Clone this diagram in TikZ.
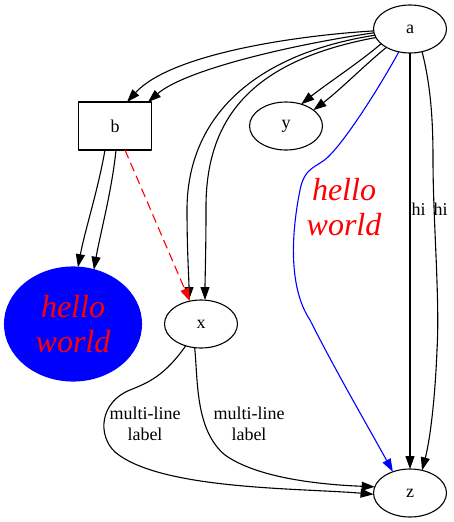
\documentclass[tikz,border=0pt]{standalone}
\usepackage{fontspec}
\setmainfont{Liberation Serif}
\usetikzlibrary{shapes.geometric,arrows.meta}
\begin{document}
\begin{tikzpicture}[x=1pt,y=-1pt,line width=1.1pt,line join=round,font=\fontsize{18}{21}\selectfont,
	>={Triangle[length=13pt,width=9pt]},
	oval/.style={draw,ellipse,minimum width=73pt,minimum height=48pt,inner sep=0pt,outer sep=0pt},
	box/.style={draw,rectangle,minimum width=73pt,minimum height=48pt,outer sep=0pt},
	big/.style={font=\fontsize{32}{35}\selectfont\itshape,text=red,align=center},
	lbl/.style={align=center,inner sep=0pt}]
	\useasboundingbox (0,0) rectangle (453,522);
	\node[oval] (a) at (410,29) {a};
	\node[box] (b) at (115,126) {b};
	\node[oval] (y) at (286,126) {y};
	\node[oval,fill=blue,draw=blue,minimum width=137pt,minimum height=114pt,big] (hw) at (73,324) {hello\\world};
	\node[oval] (x) at (201,324) {x};
	\node[oval] (z) at (410,493) {z};
	\draw[->] (a.183) .. controls (290,36) and (170,55) .. ([xshift=12pt]b.north);
	\draw[->] (a.186) .. controls (290,45) and (185,70) .. ([xshift=33pt]b.north);
	\draw[->] (a.207) .. controls (360,62) and (325,85) .. (y.55);
	\draw[->] (a.218) .. controls (368,62) and (340,90) .. (y.30);
	\draw[->] (a.190) .. controls (250,55) and (187,120) .. (187,210) .. controls (187,250) and (189,280) .. ([xshift=-12pt]x.north);
	\draw[->] (a.194) .. controls (255,60) and (205,115) .. (206,210) .. controls (206,250) and (205,280) .. ([xshift=4pt]x.north);
	\draw[->] ([xshift=-10pt]b.south) .. controls (98,190) and (85,230) .. (hw.85);
	\draw[->] ([xshift=1pt]b.south) .. controls (112,190) and (100,235) .. (hw.69);
	\draw[->,red,dash pattern=on 9pt off 5pt] ([xshift=10pt]b.south) -- (x.116);
	\draw[->,blue] (a.244) .. controls (375,95) and (345,140) .. (330,155) .. controls (318,168) and (305,165) .. (300,190)
		.. controls (290,240) and (290,290) .. (310,320) .. controls (335,370) and (370,430) .. (z.129);
	\node[big] (hwlbl) at (344,207) {hello\\world};
	\draw[->] (a.south) -- (z.north);
	\draw[->] (a.298) .. controls (432,90) and (433,130) .. (433,160) .. controls (433,220) and (440,300) .. (437,350)
		.. controls (435,400) and (430,440) .. (z.62);
	\node[lbl,anchor=west] (hi1) at (411,209) {hi};
	\node[lbl,anchor=west] (hi2) at (433,209) {hi};
	\draw[->] (x.235) .. controls (165,375) and (150,382) .. (130,390) .. controls (100,402) and (97,435) .. (115,452)
		.. controls (160,490) and (300,488) .. (z.182);
	\draw[->] (x.255) .. controls (198,380) and (195,430) .. (225,455) .. controls (260,480) and (330,485) .. (z.170);
	\node[lbl] (ml1) at (145,424) {multi-line\\label};
	\node[lbl] (ml2) at (249,424) {multi-line\\label};
\end{tikzpicture}
\end{document}
